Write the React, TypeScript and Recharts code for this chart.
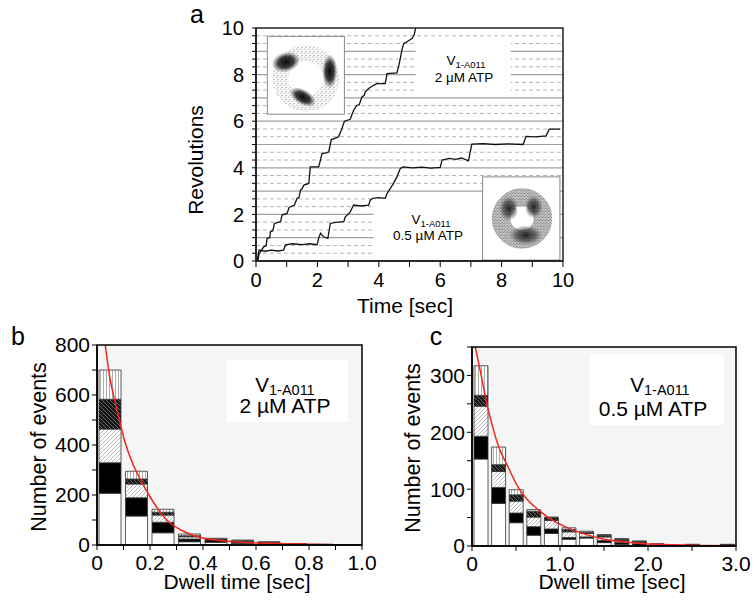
import React from 'react';
import { ComposedChart, LineChart, Line, Bar, XAxis, YAxis, ReferenceLine, ReferenceArea } from 'recharts';

const ff = '"Liberation Sans", Arial, Helvetica, sans-serif';

// panel a: rotation traces, [time s, revolutions]
const trace2uM = [
  [0.06, 0.0], [0.1, 0.3], [0.25, 0.61], [0.33, 0.65], [0.36, 0.97], [0.45, 1.0], [0.47, 1.26], [0.55, 1.3],
  [0.6, 1.61], [0.8, 1.69], [0.85, 1.97], [1.01, 2.04], [1.08, 2.3], [1.25, 2.4], [1.34, 2.69], [1.4, 2.72],
  [1.45, 3.04], [1.5, 3.1], [1.56, 3.26], [1.72, 3.33], [1.77, 4.04], [2.04, 4.04], [2.1, 4.33], [2.15, 4.61],
  [2.32, 4.65], [2.37, 4.69], [2.45, 5.2], [2.69, 5.33], [2.8, 5.69], [2.88, 6.0], [3.07, 6.08], [3.18, 6.47],
  [3.29, 6.69], [3.36, 6.7], [3.45, 7.04], [3.52, 7.1], [3.56, 7.26], [3.67, 7.4], [3.83, 7.54], [3.94, 7.61],
  [4.21, 7.61], [4.27, 8.04], [4.59, 8.07], [4.64, 8.33], [4.7, 8.69], [4.75, 9.04], [4.81, 9.33], [4.97, 9.45],
  [5.08, 9.55], [5.15, 9.7], [5.2, 10],
];
const trace05uM = [
  [0.04, 0.04], [0.1, 0.47], [0.3, 0.42], [0.5, 0.47], [0.7, 0.43], [0.9, 0.47], [0.96, 0.69], [1.2, 0.74],
  [1.5, 0.7], [1.75, 0.74], [1.99, 0.7], [2.04, 0.97], [2.1, 1.19], [2.2, 1.04], [2.34, 0.97], [2.42, 1.61],
  [2.6, 1.66], [2.86, 1.69], [2.91, 1.9], [3.07, 2.11], [3.18, 2.4], [3.4, 2.36], [3.67, 2.4], [3.72, 2.61],
  [3.8, 2.69], [4.0, 2.72], [4.21, 2.69], [4.27, 2.9], [4.37, 3.11], [4.48, 3.33], [4.59, 3.61], [4.7, 3.97],
  [4.8, 4.04], [5.1, 4.0], [5.4, 4.03], [5.7, 3.99], [6.0, 4.02], [6.06, 4.33], [6.3, 4.4], [6.5, 4.36],
  [6.7, 4.42], [6.92, 4.3], [7.03, 5.02], [7.4, 5.04], [7.8, 5.0], [8.2, 5.03], [8.7, 5.0], [8.8, 5.35],
  [9.1, 5.33], [9.45, 5.37], [9.55, 5.66], [9.9, 5.66],
];

// panel b: dwell histogram, 2 uM ATP
const binsB = [0.05, 0.15, 0.25, 0.35, 0.45, 0.55, 0.65, 0.75, 0.85, 0.95];
const whiteB = [207, 116, 49, 13, 11, 7, 3, 1, 1, 0];
const blackB = [122, 73, 42, 11, 9, 6, 5, 2, 1, 0];
const hatchB = [135, 55, 29, 9, 3, 3, 2, 1, 0, 0];
const darkB = [119, 20, 11, 4, 1, 1, 1, 0, 0, 0];
const vertB = [117, 31, 12, 7, 3, 3, 2, 1, 1, 0];
const fitB = [
  [0.031, 800], [0.049, 667], [0.068, 573], [0.087, 487], [0.106, 410], [0.137, 320], [0.16, 270],
  [0.2, 193], [0.263, 100], [0.326, 55], [0.39, 30], [0.45, 20], [0.515, 13], [0.64, 7], [0.75, 4],
  [0.9, 1], [1.0, 0.5],
];

// panel c: dwell histogram, 0.5 uM ATP
const binsC = [0.1, 0.3, 0.5, 0.7, 0.9, 1.1, 1.3, 1.5, 1.7, 1.9, 2.1, 2.3, 2.5, 2.7, 2.9];
const whiteC = [153, 75, 41, 19, 22, 12, 14, 6, 3, 1, 0, 0, 0, 0, 0];
const blackC = [40, 28, 17, 15, 8, 3, 2, 4, 3, 3, 2, 0, 1, 0, 1];
const hatchC = [53, 28, 21, 17, 15, 10, 6, 6, 3, 2, 1, 0, 1, 0, 1];
const darkC = [19, 12, 11, 10, 5, 4, 2, 3, 3, 2, 1, 0, 1, 0, 1];
const vertC = [52, 31, 9, 3, 1, 3, 2, 1, 1, 1, 0, 0, 0, 0, 0];
const fitC = [
  [0.037, 350], [0.094, 308], [0.132, 278], [0.17, 249], [0.227, 214], [0.3, 176], [0.397, 143],
  [0.537, 100], [0.757, 63], [0.87, 50], [1.1, 31], [1.3, 20], [1.5, 12], [1.7, 8], [1.9, 5],
  [2.1, 3], [2.3, 2], [2.6, 1], [3.0, 0.4],
];

const ticksA_x = [0, 1, 2, 3, 4, 5, 6, 7, 8, 9, 10];
const ticksA_y = Array.from({ length: 31 }, (_, i) => i / 3);
const gridSolid = [1, 2, 3, 4, 5, 6, 7, 8, 9];
const gridDashed = ticksA_y.filter((v) => v > 0 && v < 10 && Math.abs(v - Math.round(v)) > 0.01);
const ticksB_x = [0, 0.1, 0.2, 0.3, 0.4, 0.5, 0.6, 0.7, 0.8, 0.9, 1.0];
const ticksB_y = [0, 100, 200, 300, 400, 500, 600, 700, 800];
const ticksC_x = [0, 0.5, 1.0, 1.5, 2.0, 2.5, 3.0];
const ticksC_y = [0, 50, 100, 150, 200, 250, 300, 350];

const toXY = (pts: number[][], key: string) => pts.map(([t, v]) => ({ t, [key]: v }));
const stack = (bins: number[], w: number[], b: number[], h: number[], d: number[], v: number[]) =>
  bins.map((t, i) => ({ bin: String(t), white: w[i], black: b[i], hatch: h[i], dark: d[i], vert: v[i] }));

const histB = stack(binsB, whiteB, blackB, hatchB, darkB, vertB);
const histC = stack(binsC, whiteC, blackC, hatchC, darkC, vertC);

const isInt = (v: number) => Math.abs(v - Math.round(v)) < 1e-6;

const tickStyle = (size: number) => ({ fill: '#000', fontSize: size, fontFamily: ff });
const axisStyle = { stroke: '#000', strokeWidth: 1.5 };

const Inset1 = (p: any) => {
  const { x, y, width: w, height: h } = p;
  return (
    <g>
      <rect x={x} y={y} width={w} height={h} fill="#fff" stroke="#8a8a8a" strokeWidth={1} />
      <circle cx={x + 0.5 * w} cy={y + 0.54 * h} r={0.33 * w} fill="none" stroke="url(#speck)" strokeWidth={0.2 * w} />
      <ellipse cx={x + 0.24 * w} cy={y + 0.33 * h} rx={0.19 * w} ry={0.13 * h} fill="url(#blob)" transform={`rotate(-15 ${x + 0.24 * w} ${y + 0.33 * h})`} />
      <ellipse cx={x + 0.81 * w} cy={y + 0.45 * h} rx={0.1 * w} ry={0.22 * h} fill="url(#blob)" />
      <ellipse cx={x + 0.46 * w} cy={y + 0.78 * h} rx={0.19 * w} ry={0.1 * h} fill="url(#blob)" transform={`rotate(30 ${x + 0.46 * w} ${y + 0.78 * h})`} />
    </g>
  );
};

const Inset2 = (p: any) => {
  const { x, y, width: w, height: h } = p;
  return (
    <g>
      <rect x={x} y={y} width={w} height={h} fill="#fff" stroke="#8a8a8a" strokeWidth={1} />
      <circle cx={x + 0.51 * w} cy={y + 0.5 * h} r={0.27 * w} fill="none" stroke="url(#speckDense)" strokeWidth={0.24 * w} />
      <ellipse cx={x + 0.34 * w} cy={y + 0.38 * h} rx={0.13 * w} ry={0.15 * h} fill="url(#blobSoft)" />
      <ellipse cx={x + 0.66 * w} cy={y + 0.36 * h} rx={0.12 * w} ry={0.14 * h} fill="url(#blobSoft)" />
      <ellipse cx={x + 0.56 * w} cy={y + 0.7 * h} rx={0.22 * w} ry={0.12 * h} fill="url(#blobSoft)" />
      <path d={`M${x + 0.43 * w},${y + 0.36 * h} L${x + 0.57 * w},${y + 0.36 * h} L${x + 0.5 * w},${y + 0.52 * h} Z`} fill="#fff" />
    </g>
  );
};

const Defs = () => (
  <svg width={0} height={0} style={{ position: 'absolute' }}>
    <defs>
      <pattern id="hatchLight" patternUnits="userSpaceOnUse" width={4} height={4}>
        <rect width={4} height={4} fill="#fff" />
        <path d="M-1,1 L1,-1 M0,4 L4,0 M3,5 L5,3" stroke="#999" strokeWidth={0.7} />
      </pattern>
      <pattern id="hatchDark" patternUnits="userSpaceOnUse" width={4} height={4}>
        <rect width={4} height={4} fill="#161616" />
        <path d="M-1,3 L1,5 M0,0 L4,4 M3,-1 L5,1" stroke="#9a9a9a" strokeWidth={0.6} />
      </pattern>
      <pattern id="vLines" patternUnits="userSpaceOnUse" width={3} height={3}>
        <rect width={3} height={3} fill="#fff" />
        <line x1={1.5} y1={0} x2={1.5} y2={3} stroke="#8a8a8a" strokeWidth={0.7} />
      </pattern>
      <pattern id="speck" patternUnits="userSpaceOnUse" width={4} height={4}>
        <circle cx={1} cy={1} r={0.5} fill="#555" />
        <circle cx={3} cy={2} r={0.45} fill="#777" />
        <circle cx={2} cy={3.4} r={0.5} fill="#666" />
      </pattern>
      <pattern id="speckDense" patternUnits="userSpaceOnUse" width={3} height={3}>
        <rect width={3} height={3} fill="#c8c8c8" />
        <circle cx={0.8} cy={0.8} r={0.55} fill="#555" />
        <circle cx={2.2} cy={1.6} r={0.5} fill="#666" />
        <circle cx={1.2} cy={2.5} r={0.45} fill="#777" />
      </pattern>
      <radialGradient id="blob">
        <stop offset="0%" stopColor="#0a0a0a" stopOpacity={1} />
        <stop offset="55%" stopColor="#1e1e1e" stopOpacity={0.85} />
        <stop offset="100%" stopColor="#555" stopOpacity={0} />
      </radialGradient>
      <radialGradient id="blobSoft">
        <stop offset="0%" stopColor="#111" stopOpacity={0.9} />
        <stop offset="60%" stopColor="#333" stopOpacity={0.6} />
        <stop offset="100%" stopColor="#666" stopOpacity={0} />
      </radialGradient>
    </defs>
  </svg>
);

const ChartA = () => (
  <LineChart width={400} height={330} margin={{ top: 28, right: 17, bottom: 39, left: 16 }}>
    <XAxis
      type="number"
      dataKey="t"
      domain={[0, 10]}
      ticks={ticksA_x}
      interval={0}
      tickFormatter={(v: number) => (v % 2 === 0 ? String(v) : '')}
      tick={tickStyle(20)}
      tickSize={6}
      tickMargin={6}
      tickLine={{ stroke: '#000' }}
      axisLine={axisStyle}
      height={30}
      allowDataOverflow
    />
    <YAxis
      type="number"
      domain={[0, 10]}
      ticks={ticksA_y}
      interval={0}
      tickFormatter={(v: number) => (isInt(v) && Math.round(v) % 2 === 0 ? String(Math.round(v)) : '')}
      tick={tickStyle(20)}
      tickSize={4}
      tickMargin={8}
      tickLine={{ stroke: '#000' }}
      axisLine={axisStyle}
      width={60}
      allowDataOverflow
    />
    {gridDashed.map((v) => (
      <ReferenceLine key={'d' + v} y={v} stroke="#b4b4b4" strokeDasharray="4 3" zIndex={50} />
    ))}
    {gridSolid.map((v) => (
      <ReferenceLine key={'s' + v} y={v} stroke="#a0a0a0" strokeWidth={1.2} zIndex={50} />
    ))}
    <ReferenceArea x1={5.2} x2={8.3} y1={7.05} y2={9.52} fill="#fff" fillOpacity={1} stroke="none" zIndex={60} />
    <ReferenceArea x1={3.83} x2={7.38} y1={0.02} y2={2.85} fill="#fff" fillOpacity={1} stroke="none" zIndex={60} />
    <ReferenceArea x1={0.37} x2={2.88} y1={6.3} y2={9.64} shape={Inset1} zIndex={60} />
    <ReferenceArea x1={7.38} x2={9.9} y1={0.04} y2={3.61} shape={Inset2} zIndex={60} />
    <ReferenceArea x1={0} x2={10} y1={0} y2={10} fill="none" fillOpacity={0} stroke="#222" strokeWidth={1.5} zIndex={500} />
    <Line data={toXY(trace2uM, 'rev')} dataKey="rev" type="linear" stroke="#111" strokeWidth={1.3} dot={false} isAnimationActive={false} />
    <Line data={toXY(trace05uM, 'rev')} dataKey="rev" type="linear" stroke="#111" strokeWidth={1.3} dot={false} isAnimationActive={false} />
  </LineChart>
);

type HistProps = {
  data: any[];
  fit: number[][];
  xMax: number;
  yMax: number;
  xTicks: number[];
  yTicks: number[];
  xFmt: (v: number) => string;
  yFmt: (v: number) => string;
  barSize: number;
  margin: any;
  box: number[];
};

const Hist = ({ data, fit, xMax, yMax, xTicks, yTicks, xFmt, yFmt, barSize, margin, box }: HistProps) => (
  <ComposedChart width={380} height={273} data={data} margin={margin} barGap={0}>
    <XAxis
      xAxisId="num"
      type="number"
      dataKey="t"
      domain={[0, xMax]}
      ticks={xTicks}
      interval={0}
      tickFormatter={xFmt}
      tick={tickStyle(21)}
      tickSize={5}
      tickMargin={5}
      tickLine={{ stroke: '#000' }}
      axisLine={axisStyle}
      height={30}
      allowDataOverflow
    />
    <XAxis xAxisId="bins" type="category" dataKey="bin" hide height={0} padding={{ left: 0, right: 0 }} />
    <YAxis
      type="number"
      domain={[0, yMax]}
      ticks={yTicks}
      interval={0}
      tickFormatter={yFmt}
      tick={tickStyle(21)}
      tickSize={5}
      tickMargin={2}
      tickLine={{ stroke: '#000' }}
      axisLine={axisStyle}
      width={60}
      allowDataOverflow
    />
    <ReferenceArea xAxisId="num" x1={0} x2={xMax} y1={0} y2={yMax} fill="#f5f5f5" fillOpacity={1} stroke="none" zIndex={10} />
    <ReferenceArea xAxisId="num" x1={box[0]} x2={box[1]} y1={box[2]} y2={box[3]} fill="#fff" fillOpacity={1} stroke="none" zIndex={20} />
    <Bar xAxisId="bins" dataKey="white" stackId="s" fill="#fff" stroke="#333" strokeWidth={0.8} barSize={barSize} isAnimationActive={false} />
    <Bar xAxisId="bins" dataKey="black" stackId="s" fill="#000" stroke="#333" strokeWidth={0.8} barSize={barSize} isAnimationActive={false} />
    <Bar xAxisId="bins" dataKey="hatch" stackId="s" fill="url(#hatchLight)" stroke="#333" strokeWidth={0.8} barSize={barSize} isAnimationActive={false} />
    <Bar xAxisId="bins" dataKey="dark" stackId="s" fill="url(#hatchDark)" stroke="#333" strokeWidth={0.8} barSize={barSize} isAnimationActive={false} />
    <Bar xAxisId="bins" dataKey="vert" stackId="s" fill="url(#vLines)" stroke="#333" strokeWidth={0.8} barSize={barSize} isAnimationActive={false} />
    <Line xAxisId="num" data={toXY(fit, 'fit')} dataKey="fit" type="monotone" stroke="#f2261c" strokeWidth={1.5} dot={false} isAnimationActive={false} />
    <ReferenceArea xAxisId="num" x1={0} x2={xMax} y1={0} y2={yMax} fill="none" fillOpacity={0} stroke="#000" strokeWidth={1.5} zIndex={500} />
  </ComposedChart>
);

const fmtB_x = (v: number) => {
  const i = Math.round(v * 10);
  if (i % 2 !== 0) return '';
  return i === 0 ? '0' : v.toFixed(1);
};
const fmtB_y = (v: number) => (v % 200 === 0 ? String(v) : '');
const fmtC_x = (v: number) => (isInt(v) ? (v === 0 ? '0' : v.toFixed(1)) : '');
const fmtC_y = (v: number) => (v % 100 === 0 && v <= 300 ? String(v) : '');

const Texts = () => (
  <svg width={755} height={603} style={{ position: 'absolute', left: 0, top: 0, pointerEvents: 'none' }} fontFamily={ff} fill="#000">
    <text x={197} y={23} fontSize={25} textAnchor="middle">a</text>
    <text x={18} y={345} fontSize={25} textAnchor="middle">b</text>
    <text x={436} y={345} fontSize={25} textAnchor="middle">c</text>

    <text transform="translate(203,160) rotate(-90)" fontSize={21} textAnchor="middle">Revolutions</text>
    <text x={405} y={313} fontSize={21} textAnchor="middle">Time [sec]</text>
    <text transform="translate(46,447) rotate(-90)" fontSize={21.5} textAnchor="middle">Number of events</text>
    <text transform="translate(420,448) rotate(-90)" fontSize={21.5} textAnchor="middle">Number of events</text>
    <text x={237} y={589} fontSize={21} textAnchor="middle">Dwell time [sec]</text>
    <text x={612} y={589} fontSize={21} textAnchor="middle">Dwell time [sec]</text>

    <text x={466} y={65} fontSize={13.5} textAnchor="middle">
      V<tspan fontSize={9.5} dy={3}>1-A011</tspan>
    </text>
    <text x={464} y={81.5} fontSize={13.5} textAnchor="middle">2 µM ATP</text>
    <text x={431} y={224} fontSize={13.5} textAnchor="middle">
      V<tspan fontSize={9.5} dy={3}>1-A011</tspan>
    </text>
    <text x={428} y={240} fontSize={13.5} textAnchor="middle">0.5 µM ATP</text>

    <text x={285} y={392} fontSize={20.5} textAnchor="middle">
      V<tspan fontSize={14.5} dy={3}>1-A011</tspan>
    </text>
    <text x={285} y={413} fontSize={21} textAnchor="middle">2 µM ATP</text>
    <text x={660} y={392} fontSize={20.5} textAnchor="middle">
      V<tspan fontSize={14.5} dy={3}>1-A011</tspan>
    </text>
    <text x={653} y={416} fontSize={21} textAnchor="middle">0.5 µM ATP</text>
  </svg>
);

export default function App() {
  return (
    <div style={{ position: 'absolute', left: 0, top: 0, width: 755, height: 603, background: '#fff', fontFamily: ff }}>
      <Defs />
      <div style={{ position: 'absolute', left: 180, top: 0 }}>
        <ChartA />
      </div>
      <div style={{ position: 'absolute', left: 0, top: 330 }}>
        <Hist
          data={histB}
          fit={fitB}
          xMax={1}
          yMax={800}
          xTicks={ticksB_x}
          yTicks={ticksB_y}
          xFmt={fmtB_x}
          yFmt={fmtB_y}
          barSize={22}
          margin={{ top: 15, right: 18, bottom: 28, left: 37 }}
          box={[0.49, 0.948, 493, 740]}
        />
      </div>
      <div style={{ position: 'absolute', left: 375, top: 330 }}>
        <Hist
          data={histC}
          fit={fitC}
          xMax={3}
          yMax={350}
          xTicks={ticksC_x}
          yTicks={ticksC_y}
          xFmt={fmtC_x}
          yFmt={fmtC_y}
          barSize={14}
          margin={{ top: 17, right: 19, bottom: 27, left: 37 }}
          box={[1.34, 2.86, 213, 337]}
        />
      </div>
      <Texts />
    </div>
  );
}
